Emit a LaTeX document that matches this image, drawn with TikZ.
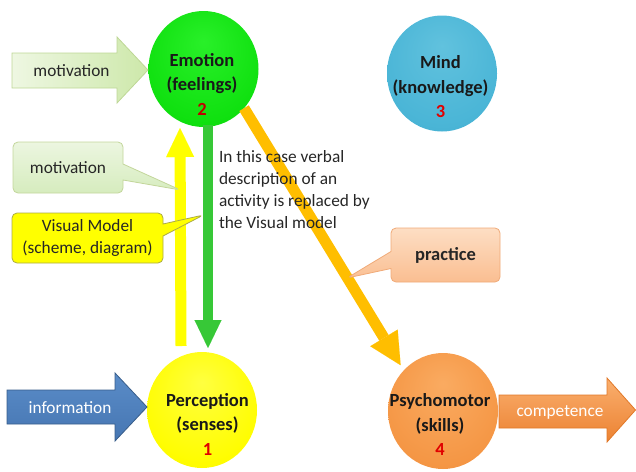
\documentclass[tikz,border=0pt]{standalone}
\usepackage{fontspec}
\setmainfont{Carlito}
\usetikzlibrary{shapes.geometric,shapes.callouts,arrows.meta,calc}
\pgfdeclareradialshading{emoShade}{\pgfpoint{0bp}{12bp}}{rgb(0bp)=(0.16,0.94,0.16); rgb(28bp)=(0.06,0.88,0.06); rgb(44bp)=(0.04,0.78,0.04); rgb(50bp)=(0.04,0.64,0.04)}
\pgfdeclareradialshading{mindShade}{\pgfpoint{0bp}{12bp}}{rgb(0bp)=(0.38,0.76,0.87); rgb(28bp)=(0.29,0.71,0.84); rgb(44bp)=(0.22,0.62,0.76); rgb(50bp)=(0.16,0.50,0.64)}
\pgfdeclareradialshading{perShade}{\pgfpoint{0bp}{12bp}}{rgb(0bp)=(1,1,0.25); rgb(28bp)=(1,0.99,0); rgb(44bp)=(0.95,0.93,0); rgb(50bp)=(0.84,0.80,0)}
\pgfdeclareradialshading{psyShade}{\pgfpoint{0bp}{12bp}}{rgb(0bp)=(0.98,0.67,0.38); rgb(28bp)=(0.96,0.59,0.27); rgb(44bp)=(0.92,0.52,0.20); rgb(50bp)=(0.82,0.44,0.14)}
\definecolor{numred}{RGB}{225,0,0}
\definecolor{yellowArr}{RGB}{255,255,0}
\definecolor{greenArr}{RGB}{55,200,55}
\definecolor{orangeArr}{RGB}{255,190,0}
\definecolor{motL}{RGB}{238,247,226}
\definecolor{motR}{RGB}{205,232,170}
\definecolor{motB}{RGB}{190,215,150}
\definecolor{infoT}{RGB}{90,140,200}
\definecolor{infoB}{RGB}{70,118,178}
\definecolor{infoBd}{RGB}{56,93,138}
\definecolor{compT}{RGB}{250,175,110}
\definecolor{compB}{RGB}{236,130,50}
\definecolor{compBd}{RGB}{225,120,40}
\definecolor{calGT}{RGB}{236,246,224}
\definecolor{calGB}{RGB}{214,236,190}
\definecolor{calGBd}{RGB}{195,214,155}
\definecolor{calY}{RGB}{255,255,0}
\definecolor{calYBd}{RGB}{170,170,70}
\definecolor{calPT}{RGB}{253,222,196}
\definecolor{calPB}{RGB}{250,190,145}
\definecolor{calPBd}{RGB}{240,170,120}
\begin{document}
\begin{tikzpicture}[x=1pt,y=-1pt,
  every node/.style={inner sep=0pt,outer sep=0pt},
  bubble/.style={ellipse,minimum width=110pt,minimum height=116pt},
  ctext/.style={font=\fontsize{18.5}{24.5}\selectfont\bfseries,align=center,text=black!90},
  ntext/.style={font=\fontsize{17.3}{22}\selectfont,align=center,text=black!85},
  bigarrow/.style={line width=0.8pt,line join=miter},
  cbox/.style={rectangle callout,rounded corners=5pt,line width=0.8pt,font=\fontsize{17.3}{22}\selectfont,align=center,text=black!85},
  conn/.style={line width=11pt},
]
\useasboundingbox (0,0) rectangle (636,471);

% circles
\node[bubble,shading=emoShade] (emo) at (203.5,69) {};
\node[bubble,shading=mindShade] (mind) at (442,73.5) {};
\node[bubble,shading=perShade] (perc) at (202,410) {};
\node[bubble,shading=psyShade] (psy) at (443,411) {};

% connectors
\draw[conn,draw=yellowArr,-{Triangle[width=28pt,length=29pt,line width=0.01pt]}]
  ($(perc.north)+(-21,-6)$) -- ($(emo.south)+(-23.5,1)$);
\draw[conn,line width=10pt,draw=greenArr,-{Triangle[width=27pt,length=28pt,line width=0.01pt]}]
  ($(emo.south)+(4.5,-2)$) -- ($(perc.north)+(6,-4)$);
\draw[conn,draw=orangeArr,shorten >=6pt,-{Triangle[width=32pt,length=32pt,line width=0.01pt]}]
  (emo.-44) -- (psy.134);

% circle texts
\node[ctext] (emoT) at (202,84) {Emotion\\(feelings)\\\textcolor{numred!85!black}{2}};
\node[ctext] (mindT) at (440.5,87) {Mind\\(knowledge)\\\textcolor{numred}{3}};
\node[ctext] (percT) at (207.5,424) {Perception\\(senses)\\\textcolor{numred}{1}};
\node[ctext] (psyT) at (440,425) {Psychomotor\\(skills)\\\textcolor{numred}{4}};

% big arrows
\path[bigarrow,draw=motB,left color=motL,right color=motR]
  (12,53) -- (117,53) -- (117,37) -- (148,70) -- (117,103) -- (117,88) -- (12,88) -- cycle;
\node[ntext] (motA) at (71.5,71) {motivation};
\path[bigarrow,draw=infoBd,top color=infoT,bottom color=infoB]
  (7,390) -- (115,390) -- (115,373) -- (147,407) -- (115,441) -- (115,424) -- (7,424) -- cycle;
\node[ntext,text=white] (infoA) at (70,408) {information};
\path[bigarrow,draw=compBd,top color=compT,bottom color=compB]
  (499,395) -- (607,395) -- (607,378) -- (635.5,410) -- (607,442) -- (607,428) -- (499,428) -- cycle;
\node[ntext,text=white] (compA) at (560,412) {competence};

% callout targets
\coordinate (pm) at (180.5,190);
\coordinate (pv) at (203.5,215);
\coordinate (pp) at (347,278);

% callouts
\node[cbox,draw=calGBd,top color=calGT,bottom color=calGB,minimum width=110pt,minimum height=51pt,
  callout absolute pointer={(pm)},callout pointer width=16pt] (callM) at (68,167.5) {motivation};
\node[cbox,draw=calYBd,fill=calY,minimum width=151pt,minimum height=50pt,
  callout absolute pointer={(pv)},callout pointer width=12pt] (callV) at (87.5,238) {Visual Model\\(scheme, diagram)};
\node[cbox,draw=calPBd,top color=calPT,bottom color=calPB,minimum width=109pt,minimum height=54pt,
  callout absolute pointer={(pp)},callout pointer width=17pt,font=\fontsize{18.5}{22}\selectfont\bfseries] (callP) at (445.5,255) {practice};

% explanatory text
\node[ntext,align=left,anchor=north west] (expl) at (219,150)
  {In this case verbal\\description of an\\activity is replaced by\\the Visual model};
\end{tikzpicture}
\end{document}
